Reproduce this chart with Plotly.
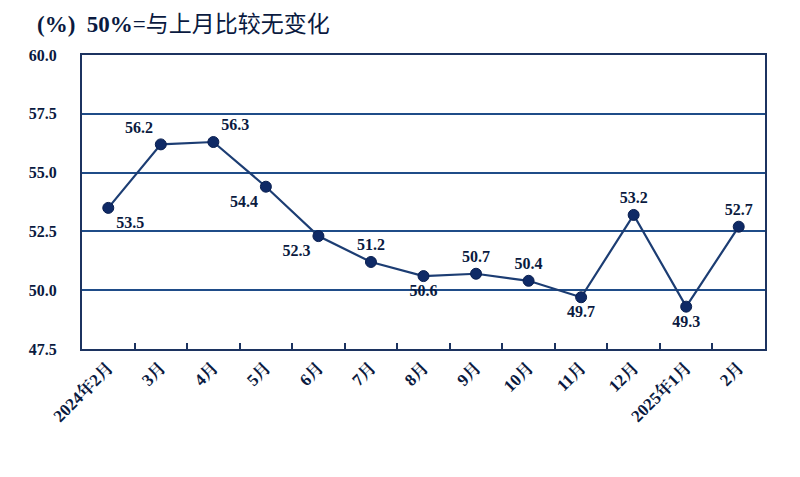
import plotly.graph_objects as go

categories = ["2024年2月", "3月", "4月", "5月", "6月", "7月", "8月", "9月", "10月", "11月", "12月", "2025年1月", "2月"]
values = [53.5, 56.2, 56.3, 54.4, 52.3, 51.2, 50.6, 50.7, 50.4, 49.7, 53.2, 49.3, 52.7]
label_pos = ["bottom right", "top left", "top right", "bottom left", "bottom left", "top center",
             "bottom center", "top center", "top center", "bottom center", "top center",
             "bottom center", "top center"]
y_ticks = [47.5, 50.0, 52.5, 55.0, 57.5, 60.0]

navy = "#0f2a66"
txt = "#0a1a40"
serif = "Liberation Serif, Times New Roman, Noto Serif CJK SC, Noto Sans CJK SC, serif"

fig = go.Figure()
fig.add_trace(go.Scatter(
    x=categories, y=values, mode="lines+markers+text",
    line=dict(color="#1c3d73", width=2.2),
    marker=dict(color=navy, size=11, line=dict(color="#0a1f50", width=1)),
    text=[f"{v:.1f}" for v in values],
    textposition=label_pos,
    textfont=dict(family=serif, size=16, color=txt, weight="bold"),
    cliponaxis=False,
    showlegend=False,
))

pw = 800 - 82 - 35
ph = 477 - 55 - 128

fig.update_layout(
    width=800, height=477,
    margin=dict(l=82, r=35, t=55, b=128),
    plot_bgcolor="white", paper_bgcolor="white",
    xaxis=dict(
        type="category", range=[-0.5, len(categories) - 0.5],
        tickangle=-45, tickfont=dict(family=serif, size=17, color=txt, weight="bold"),
        ticks="inside", tickson="boundaries", ticklen=6, tickcolor="#1c3360", tickwidth=1.5,
        showline=True, linecolor="#1c3360", linewidth=2, mirror=True,
        showgrid=False,
    ),
    yaxis=dict(
        range=[47.5, 60.0], tickvals=y_ticks, ticktext=[f"{v:.1f}" for v in y_ticks],
        tickfont=dict(family=serif, size=16, color=txt, weight="bold"),
        showline=True, linecolor="#1c3360", linewidth=2, mirror=True,
        showgrid=True, gridcolor="#1f4c88", gridwidth=1.5,
        ticks="", ticklabelstandoff=20,
    ),
    annotations=[dict(
        x=(35 - 82) / pw, y=(477 - 128 - 24) / ph, xref="paper", yref="paper", showarrow=False,
        text="<b>(%)  50%</b>=与上月比较无变化",
        font=dict(family="Liberation Serif, Noto Sans CJK SC, sans-serif", size=23, color=txt),
        xanchor="left", yanchor="middle",
    )],
)

fig.write_html("out.html")
